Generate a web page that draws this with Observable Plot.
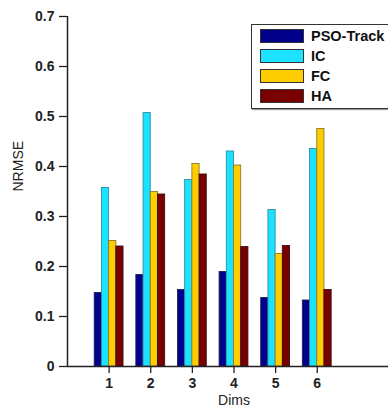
<!DOCTYPE html>
<html>
<head>
<meta charset="utf-8">
<script src="https://cdn.jsdelivr.net/npm/d3@7"></script>
<script src="https://cdn.jsdelivr.net/npm/@observablehq/plot@0.6"></script>
<style>
  html, body { margin: 0; padding: 0; background: #fff; overflow: hidden; }
  #wrap { position: relative; width: 388px; height: 411px; overflow: hidden; }
  #wrap svg { max-width: none !important; width: 400px; height: 411px; }
  .legend { position: absolute; left: 251px; top: 24px; width: 150px; height: 83px;
    border: 1.5px solid #333; background: #fff; box-shadow: 1px 1px 1px #999;
    font-family: "Liberation Sans", Arial, sans-serif; font-weight: bold; font-size: 14.5px; color: #111; }
  .row { position: absolute; left: 8px; height: 15px; }
  .sw { position: absolute; left: 0; top: 0; width: 44px; height: 14px; border: 1px solid #333; box-sizing: border-box; }
  .lb { position: absolute; left: 51px; top: -1px; white-space: nowrap; line-height: 16px; }
</style>
</head>
<body>
<div id="wrap"></div>
<script>
const dims = [1, 2, 3, 4, 5, 6];
const series = ["PSO-Track", "IC", "FC", "HA"];
const colors = ["#00008B", "#1AE2FF", "#FFCC00", "#780000"];
const strokes = ["#222255", "#2C8FA3", "#8A7A30", "#3A1010"];
const psoTrack = [0.147, 0.183, 0.153, 0.189, 0.137, 0.132];
const ic = [0.357, 0.507, 0.373, 0.430, 0.313, 0.435];
const fc = [0.251, 0.349, 0.405, 0.402, 0.225, 0.475];
const ha = [0.240, 0.344, 0.384, 0.239, 0.241, 0.153];
const yTicks = [0, 0.1, 0.2, 0.3, 0.4, 0.5, 0.6, 0.7];
const xTicks = [1, 2, 3, 4, 5, 6];

const values = [psoTrack, ic, fc, ha];
const bw = 0.173;
const data = [];
series.forEach((s, k) => {
  dims.forEach((d, i) => {
    const x1 = d - 2 * bw + k * bw;
    data.push({series: s, dim: d, x1, x2: x1 + bw, value: values[k][i]});
  });
});

const font = "'Liberation Sans', Arial, sans-serif";
const chart = Plot.plot({
  width: 400,
  height: 411,
  marginTop: 16,
  marginBottom: 45,
  marginLeft: 67,
  marginRight: 0,
  style: {fontFamily: font, fontSize: "14px", color: "#222", background: "#fff", maxWidth: "none"},
  x: {domain: [0, 8], axis: null},
  y: {domain: [0, 0.7], axis: null},
  color: {domain: series, range: colors},
  marks: [
    Plot.rectY(data, {x1: "x1", x2: "x2", y: "value", fill: "series",
      stroke: d => strokes[series.indexOf(d.series)], strokeWidth: 0.9}),
    Plot.ruleY([0], {stroke: "#222", strokeWidth: 1.5}),
    Plot.ruleX([0], {y1: 0, y2: 0.7, stroke: "#222", strokeWidth: 1.5}),
    Plot.axisY({ticks: yTicks, tickSize: 8, tickPadding: 5, tickFormat: d => d === 0 ? "0" : d3.format(".1f")(d),
      fontWeight: "bold", fontSize: 14, label: null, stroke: "#222", strokeWidth: 1.3}),
    Plot.axisX({ticks: xTicks, tickSize: 7, tickPadding: 5, tickFormat: d => String(d),
      fontWeight: "bold", fontSize: 14, label: null, stroke: "#222", strokeWidth: 1.3}),
    Plot.text(["Dims"], {frameAnchor: "bottom", dy: 38, fontSize: 14, fill: "#222"}),
    Plot.text(["NRMSE"], {frameAnchor: "left", rotate: -90, dx: -49, fontSize: 14, fill: "#222"})
  ]
});
chart.style.maxWidth = "none";
const wrap = document.getElementById("wrap");
wrap.appendChild(chart);

const legend = document.createElement("div");
legend.className = "legend";
series.forEach((s, k) => {
  const row = document.createElement("div");
  row.className = "row";
  row.style.top = (4 + k * 20) + "px";
  const sw = document.createElement("div");
  sw.className = "sw";
  sw.style.background = colors[k];
  const lb = document.createElement("div");
  lb.className = "lb";
  lb.textContent = s;
  row.appendChild(sw);
  row.appendChild(lb);
  legend.appendChild(row);
});
wrap.appendChild(legend);
</script>
</body>
</html>
